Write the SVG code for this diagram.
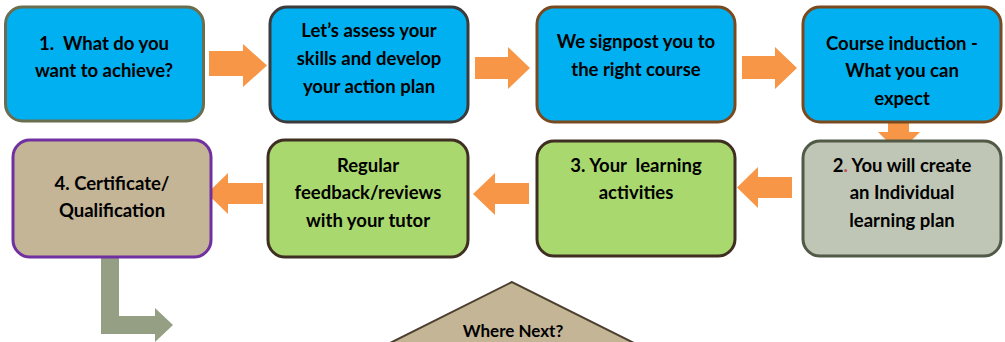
<svg xmlns="http://www.w3.org/2000/svg" width="1005" height="342" viewBox="0 0 1005 342">
<style>
.box{stroke-width:3}
.blue{fill:#00b0f0}
.green{fill:#a9d86e;stroke:#3f2e22}
.t{font-family:"Lato","Open Sans","Liberation Sans",sans-serif;font-weight:bold;font-size:18.5px;fill:#000;text-anchor:middle;white-space:pre}
.arrow{fill:#f79646}
</style>
<rect width="1005" height="342" fill="#ffffff"/>
<g id="connectors">
<polygon class="arrow" points="209,51 243,51 243,44 267,65.5 243,87 243,76 209,76"/>
<polygon class="arrow" points="475,57 508,57 508,47 530,68 508,89 508,79 475,79"/>
<polygon class="arrow" points="742,56 775,56 775,47 797,68 775,89 775,79 742,79"/>
<polygon class="arrow" points="888,108 909,108 909,132 920,132 899,153 878,132 888,132"/>
<polygon class="arrow" points="792,177 758,177 758,167 737,187.5 758,208 758,198 792,198"/>
<polygon class="arrow" points="529,183 495,183 495,173 473,194 495,215 495,204 529,204"/>
<polygon class="arrow" points="263,183 228,183 228,173 207,193.5 228,214 228,204 263,204"/>
<polygon fill="#949f84" points="101,257 119,257 119,316 155,316 155,308 173,325 155,342 155,334 101,334"/>
</g>
<g id="n1"><rect class="box blue" x="5.5" y="7" width="198" height="114" rx="17" stroke="#6b6e4e"/>
<text class="t" x="104" y="50" xml:space="preserve">1.  What do you</text><text class="t" x="104" y="77">want to achieve?</text></g>
<g id="n2"><rect class="box blue" x="270" y="7" width="198" height="115" rx="17" stroke="#3b3b3b"/>
<text class="t" x="369" y="37">Let’s assess your</text><text class="t" x="369" y="65">skills and develop</text><text class="t" x="369" y="93">your action plan</text></g>
<g id="n3"><rect class="box blue" x="537" y="7" width="198" height="115" rx="17" stroke="#7a4a1e"/>
<text class="t" x="636" y="48">We signpost you to</text><text class="t" x="636" y="76">the right course</text></g>
<g id="n4"><rect class="box blue" x="803" y="7" width="198" height="115" rx="17" stroke="#7a4a1e"/>
<text class="t" x="902" y="50">Course induction -</text><text class="t" x="902" y="77">What you can</text><text class="t" x="902" y="105">expect</text></g>
<g id="n5"><rect class="box" x="803" y="141" width="198" height="115" rx="17" fill="#c0c6b5" stroke="#505a46"/>
<text class="t" x="902" y="172">2<tspan fill="#c0504d">.</tspan> You will create</text><text class="t" x="902" y="199">an Individual</text><text class="t" x="902" y="227">learning plan</text></g>
<g id="n6"><rect class="box green" x="537" y="141" width="198" height="115" rx="17"/>
<text class="t" x="636" y="172" xml:space="preserve">3. Your  learning</text><text class="t" x="636" y="199">activities</text></g>
<g id="n7"><rect class="box green" x="268" y="140" width="200" height="117" rx="17"/>
<text class="t" x="368" y="172">Regular</text><text class="t" x="368" y="199">feedback/reviews</text><text class="t" x="368" y="227">with your tutor</text></g>
<g id="n8"><rect class="box" x="13" y="140" width="198" height="117" rx="17" fill="#c4b597" stroke="#7030a0"/>
<text class="t" x="112" y="190">4. Certificate/</text><text class="t" x="112" y="217">Qualification</text></g>
<g id="n9"><polygon points="512,282 372,352 652,352" fill="#c4b597" stroke="#4a3f2e" stroke-width="2"/>
<text class="t" x="513" y="337" style="font-size:17px">Where Next?</text></g>
</svg>
